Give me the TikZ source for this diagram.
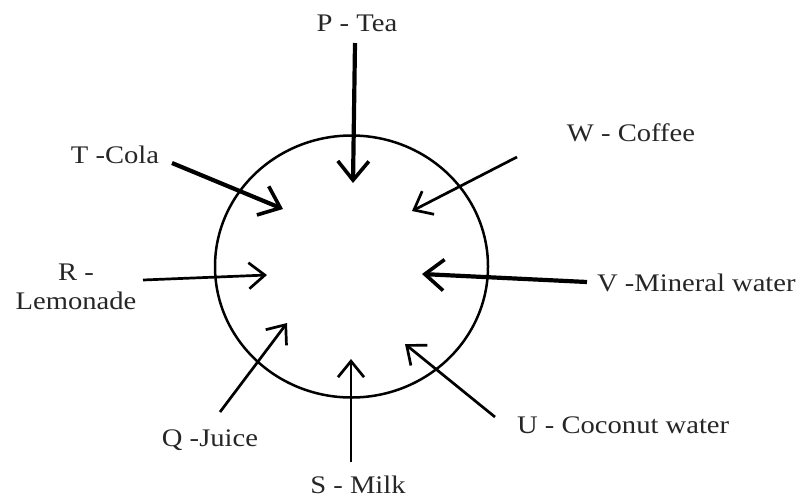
\documentclass[tikz,border=0pt]{standalone}
\usepackage{fontspec}
\setmainfont{Liberation Serif}[FakeStretch=1.13]
\usetikzlibrary{arrows.meta,shapes.geometric}
\begin{document}
\begin{tikzpicture}[x=1pt,y=-1pt,
  lbl/.style={font=\fontsize{25.3}{29}\selectfont, text=black!85, inner sep=0pt, align=center},
  thickarr/.style={line width=4.2pt, -{Straight Barb[length=19pt,width=31pt,line width=3.6pt]}},
  thinarr/.style={line width=2.7pt, -{Straight Barb[length=16pt,width=26pt,line width=2.7pt]}},
]
\useasboundingbox (0,0) rectangle (805,499);
\node[ellipse, draw, line width=2.5pt, minimum width=273pt, minimum height=262pt, inner sep=0pt] (c) at (351.5,266.5) {};
% labels
\node[lbl] (P) at (357,23) {P - Tea};
\node[lbl] (T) at (115,155) {T -Cola};
\node[lbl] (W) at (631,133) {W - Coffee};
\node[lbl] (R) at (76,287) {R -\\Lemonade};
\node[lbl, anchor=west] (V) at (597,283) {V -Mineral water};
\node[lbl] (Q) at (210,440) {Q -Juice};
\node[lbl] (S) at (358,485) {S - Milk};
\node[lbl, anchor=west] (U) at (517,425) {U - Coconut water};
% arrow ends
\coordinate (p1) at (355,43);  \coordinate (p2) at (353,183);
\coordinate (t1) at (172,163); \coordinate (t2) at (283,209);
\coordinate (w1) at (517,157); \coordinate (w2) at (412,211);
\coordinate (r1) at (143,280); \coordinate (r2) at (267,275);
\coordinate (v1) at (587,282); \coordinate (v2) at (422,274);
\coordinate (q1) at (220,412); \coordinate (q2) at (287,323);
\coordinate (s1) at (351,462); \coordinate (s2) at (351,359);
\coordinate (u1) at (495,417); \coordinate (u2) at (405,344);
\draw[thickarr] (p1) -- (p2);
\draw[thickarr] (t1) -- (t2);
\draw[thinarr] (w1) -- (w2);
\draw[thinarr] (r1) -- (r2);
\draw[thickarr] (v1) -- (v2);
\draw[thinarr] (q1) -- (q2);
\draw[thinarr] (s1) -- (s2);
\draw[thinarr] (u1) -- (u2);
\end{tikzpicture}
\end{document}
